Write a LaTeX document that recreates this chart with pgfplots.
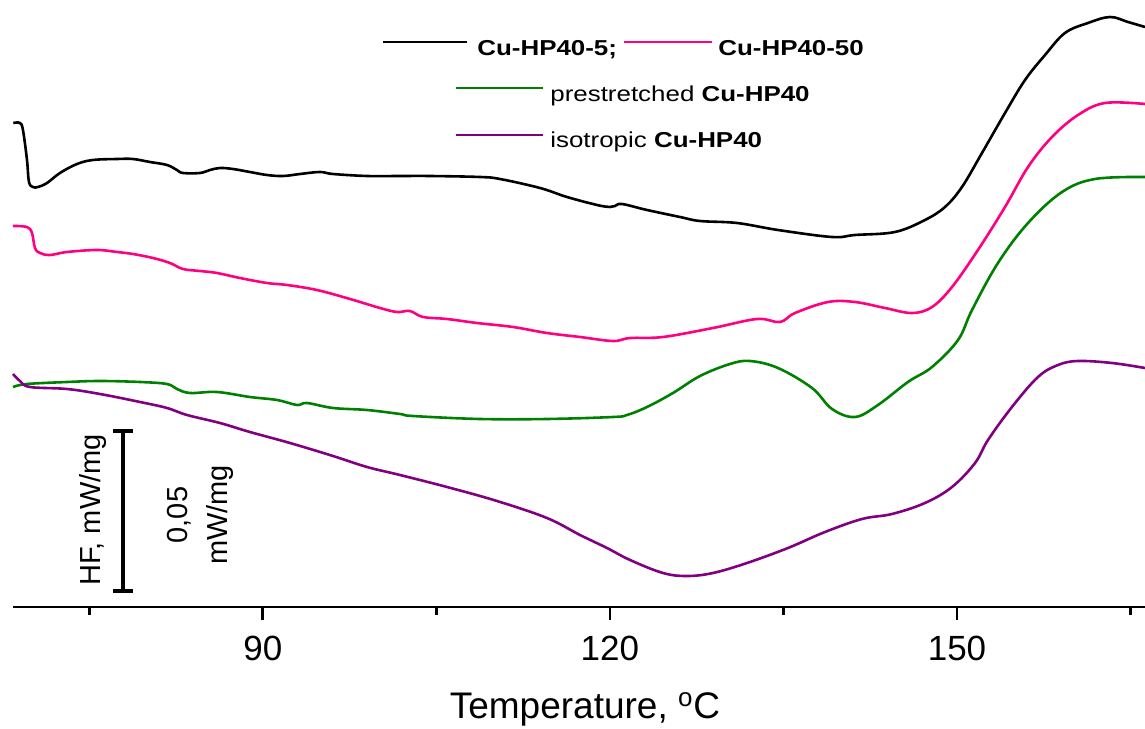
\documentclass[border=0pt]{standalone}
\usepackage{fontspec}
\setmainfont{Liberation Sans}
\newfontfamily\legfont[FakeStretch=1.2]{Liberation Sans}
\usepackage{pgfplots}
\pgfplotsset{compat=1.18}
\definecolor{cpink}{RGB}{255,0,128}
\definecolor{cgreen}{RGB}{0,128,0}
\definecolor{cpurple}{RGB}{128,0,128}
\begin{document}
\begin{tikzpicture}
\useasboundingbox (-6.5pt,-60.5pt) rectangle (566pt,303.5pt);
\begin{axis}[
  at={(0,0)}, anchor=south west, scale only axis,
  width=566pt, height=303.5pt,
  xmin=68.41, xmax=166.25, ymin=0, ymax=607,
  axis x line=bottom, axis y line=none,
  x axis line style={-, line width=1.3pt},
  xtick={90,120,150}, minor xtick={75,105,135,165},
  tick align=outside,
  major tick length=6.5pt, minor tick length=4pt,
  xtick style={line width=1.3pt, black},
  /pgf/number format/assume math mode=true,
  xticklabel style={font=\fontsize{17.5}{20}\selectfont, yshift=-4.5pt},
  xlabel={Temperature, \textsuperscript{o}C},
  xlabel style={at={(axis description cs:0.5053,-0.1845)}, anchor=base, font=\fontsize{18.5}{22}\selectfont},
  clip=false,
  every axis plot/.append style={line width=1.3pt, smooth, tension=0.6},
]
\addplot[black] coordinates {(68.44,484) (69.01,484) (69.27,477) (69.62,447) (69.79,425) (70.14,420) (70.57,420) (71.35,424) (72.47,434) (73.94,443) (75.32,447) (77.40,448) (78.78,448) (80.25,445) (81.72,442) (82.58,437) (83.10,434) (84.57,434) (85.44,437) (86.30,439) (87.42,438) (88.89,435) (90.36,432) (91.75,431) (93.22,433) (94.94,435) (96.07,433) (99.01,431) (101.86,431) (104.45,431) (108.77,430) (110.50,428) (113.96,419) (116.29,410) (118.89,402) (120.01,400) (120.44,401) (121.05,403) (123.21,397) (126.06,390) (127.79,386) (130.99,384) (134.53,377) (139.20,370) (141.18,372) (144.64,375) (147.23,387) (148.96,400) (150.43,420) (152.16,454) (154.15,494) (155.88,527) (157.61,552) (159.33,574) (161.32,584) (163.22,590) (164.78,585) (166.25,580)};
\addplot[cpink] coordinates {(68.41,381) (69.62,380) (70.05,374) (70.31,359) (70.74,354) (71.61,352) (73.08,355) (75.67,357) (77.40,355) (78.78,353) (80.51,349) (81.98,344) (83.10,338) (84.57,336) (86.04,334) (88.03,329) (90.36,324) (92.09,322) (94.68,317) (97.54,308) (100.13,299) (101.60,295) (102.72,296) (103.85,290) (105.92,288) (108.51,284) (111.63,280) (114.56,274) (117.42,270) (120.27,266) (121.74,269) (124.59,270) (128.91,279) (132.71,288) (134.70,285) (136.00,294) (138.85,305) (141.18,305) (143.78,299) (146.11,294) (147.84,300) (149.57,320) (151.81,357) (154.15,400) (156.14,440) (158.21,470) (160.46,492) (162.79,504) (166.25,503)};
\addplot[cgreen] coordinates {(68.41,220) (69.62,223) (73.08,225) (75.93,226) (79.39,225) (81.72,223) (82.58,218) (83.71,214) (86.04,215) (88.89,210) (91.23,207) (92.96,202) (93.82,204) (96.07,199) (99.01,197) (101.86,193) (102.98,191) (108.77,188) (114.56,188) (120.27,190) (121.48,192) (123.21,200) (125.45,214) (127.79,231) (130.38,243) (132.11,246) (134.53,239) (137.47,219) (139.20,198) (141.18,190) (143.17,202) (145.76,225) (147.84,240) (150.09,267) (151.30,297) (153.54,344) (156.14,384) (159.08,415) (161.93,428) (166.25,430)};
\addplot[cpurple] coordinates {(68.41,233) (69.01,226) (69.88,220) (73.08,218) (75.93,213) (79.39,205) (81.72,199) (83.45,192) (86.30,184) (88.89,175) (92.35,164) (96.07,151) (99.01,140) (101.86,132) (105.92,120) (110.24,106) (114.56,89) (117.42,72) (119.75,59) (121.74,47) (124.59,34) (126.66,31) (128.91,34) (131.85,44) (135.39,59) (138.59,75) (141.79,88) (144.38,93) (147.23,104) (149.57,120) (151.56,144) (152.68,167) (154.75,200) (157.00,230) (158.73,242) (160.46,246) (163.40,244) (166.25,239)};
% scale bar
\draw[line width=1.7pt] (axis cs:77.92,16) -- (axis cs:77.92,176);
\draw[line width=1.7pt] (axis cs:77.05,176) -- (axis cs:78.78,176);
\draw[line width=1.7pt] (axis cs:77.05,16) -- (axis cs:78.78,16);
\node[rotate=90, anchor=base, inner sep=0pt, font=\fontsize{14.5}{17}\selectfont] at (axis cs:75.93,97) {HF, mW/mg};
\node[rotate=90, align=center, inner sep=0pt, font=\fontsize{14.5}{20}\selectfont] at (axis cs:84.57,92) {0,05\\mW/mg};
% legend
\draw[black, line width=1.2pt] (axis cs:100.39,565) -- (axis cs:107.65,565);
\node[anchor=base west, inner sep=0pt, font=\legfont\fontsize{10.8}{13}\selectfont\bfseries] at (axis cs:108.51,551) {Cu-HP40-5;};
\draw[cpink, line width=1.2pt] (axis cs:121.22,565) -- (axis cs:128.82,565);
\node[anchor=base west, inner sep=0pt, font=\legfont\fontsize{10.8}{13}\selectfont\bfseries] at (axis cs:129.34,551) {Cu-HP40-50};
\draw[cgreen, line width=1.2pt] (axis cs:106.70,519) -- (axis cs:114.22,519);
\node[anchor=base west, inner sep=0pt, font=\legfont\fontsize{10.8}{13}\selectfont] at (axis cs:114.82,505) {prestretched \textbf{Cu-HP40}};
\draw[cpurple, line width=1.2pt] (axis cs:106.70,472) -- (axis cs:114.22,472);
\node[anchor=base west, inner sep=0pt, font=\legfont\fontsize{10.8}{13}\selectfont] at (axis cs:114.82,459) {isotropic \textbf{Cu-HP40}};
\end{axis}
\end{tikzpicture}
\end{document}
